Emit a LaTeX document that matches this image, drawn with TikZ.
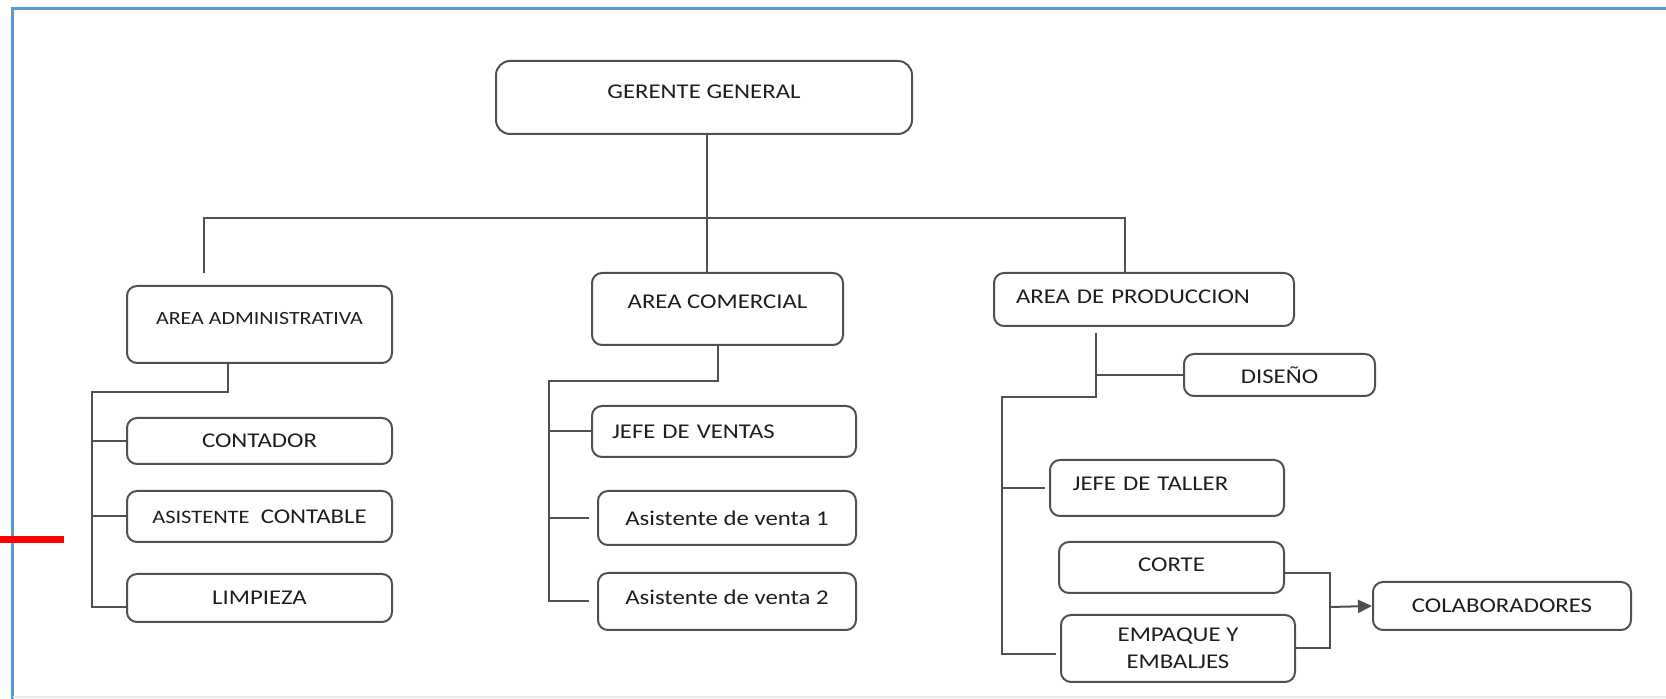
\documentclass[tikz,border=0pt]{standalone}
\usepackage{fontspec}
\setmainfont{Carlito}[FakeStretch=1.18]
\usepackage{xcolor}
\usetikzlibrary{arrows.meta}
\definecolor{linegray}{HTML}{505050}
\definecolor{textgray}{HTML}{1E1E1E}
\definecolor{frameblue}{HTML}{5B9BD5}
\definecolor{framelight}{HTML}{DDEBF7}

\begin{document}
\begin{tikzpicture}[x=0.5pt, y=-0.5pt,
        box/.style={draw=linegray, line width=1pt, rounded corners=5pt, inner sep=0pt,
                    text=textgray, font=\fontsize{10.5}{13.5}\selectfont},
        txtup/.style={text height=6.8pt, text depth=#1},
        link/.style={draw=linegray, line width=1pt}]

    \useasboundingbox (0,0) rectangle (1666,699);
    \draw[frameblue, line width=1.8pt] (12.5,699) -- (12.5,8.5) -- (1666,8.5);
    \draw[framelight, line width=1pt]  (12.5,697.5) -- (1666,697.5);
    \draw[red, line width=3.5pt]       (0,540) -- (64,540);

    \node[box, rounded corners=7pt, minimum width=208pt, minimum height=36.5pt, txtup=6pt]  (gg)    at (704,97.5)    {GERENTE GENERAL};
    \node[box, minimum width=132.5pt, minimum height=38.5pt, txtup=7pt,
          font=\fontsize{9.3}{12}\selectfont]                                              (adm)   at (259.5,324.5) {AREA ADMINISTRATIVA};
    \node[box, minimum width=125.5pt, minimum height=36pt, txtup=7.5pt]                    (com)   at (717.5,309)   {AREA COMERCIAL};
    \node[box, minimum height=26.5pt, txtup=3pt, align=left, text width=128pt, inner xsep=11pt] (prod) at (1144,299.5) {AREA DE PRODUCCION};

    \node[box, minimum width=132.5pt, minimum height=23pt]                                 (cont)  at (259.5,441)   {CONTADOR};
    \node[box, minimum width=132.5pt, minimum height=25.5pt]                               (asis)  at (259.5,516.5) {{\fontsize{9.5}{12}\selectfont ASISTENTE}\ \ CONTABLE};
    \node[box, minimum width=132.5pt, minimum height=24pt]                                 (limp)  at (259.5,598)   {LIMPIEZA};

    \node[box, minimum height=25.5pt, align=left, text width=112pt, inner xsep=10pt]      (jven)  at (724,431.5)   {JEFE DE VENTAS};
    \node[box, minimum width=129pt, minimum height=27pt]                                   (av1)   at (727,518)     {Asistente de venta 1};
    \node[box, minimum width=129pt, minimum height=28.5pt, txtup=4pt]                      (av2)   at (727,601.5)   {Asistente de venta 2};

    \node[box, minimum width=95.5pt, minimum height=21pt]                                  (dis)   at (1279.5,375)  {DISEÑO};
    \node[box, minimum height=28pt, txtup=4pt, align=left, text width=94.4pt, inner xsep=11.3pt] (jtal) at (1167,488) {JEFE DE TALLER};
    \node[box, minimum width=112.5pt, minimum height=25.5pt, txtup=2.5pt]                  (corte) at (1171.5,567.5) {CORTE};
    \node[box, minimum width=117pt, minimum height=33.5pt, align=center]                   (emp)   at (1178,648.5)  {EMPAQUE Y\\EMBALJES};
    \node[box, minimum width=129pt, minimum height=24pt]                                   (colab) at (1502,606)    {COLABORADORES};

    \coordinate (bar)       at (707,218);
    \coordinate (bar-l)     at (204,273);
    \coordinate (adm-bus)   at (92,392);
    \coordinate (com-bus)   at (549,381);
    \coordinate (prod-bus)  at (1002,397);
    \coordinate (join)      at (1330,607);
    \coordinate (adm-drop)  at ([xshift=-16pt]adm.south);
    \coordinate (prod-drop) at ([xshift=-24pt]prod.south);

    \draw[link] (gg.south -| bar) -- (com.north -| bar);
    \draw[link] (bar-l) |- (bar) -| ([xshift=-9.5pt]prod.north);

    \draw[link] (adm-drop) |- (adm-bus) |- ([yshift=-4.5pt]limp.west);
    \draw[link] (adm-bus |- cont.west) -- (cont.west);
    \draw[link] (adm-bus |- asis.west) -- (asis.west);

    \draw[link] (com.south) |- (com-bus) |- ([xshift=-4pt]av2.west);
    \draw[link] (com-bus |- jven.west) -- (jven.west);
    \draw[link] (com-bus |- av1.west) -- ([xshift=-4pt]av1.west);

    \draw[link] ([yshift=-3pt]prod-drop) |- (prod-bus) |- ([xshift=-2pt,yshift=-2.75pt]emp.west);
    \draw[link] (prod-drop |- dis.west) -- (dis.west);
    \draw[link] (prod-bus |- jtal.west) -- ([xshift=-2pt]jtal.west);
    \draw[link] ([yshift=-2.75pt]corte.east) -| (join) |- (emp.east);
    \draw[link, -{Triangle[length=7pt, width=6.5pt]}] (join) -- (colab.west);

\end{tikzpicture}
\end{document}
